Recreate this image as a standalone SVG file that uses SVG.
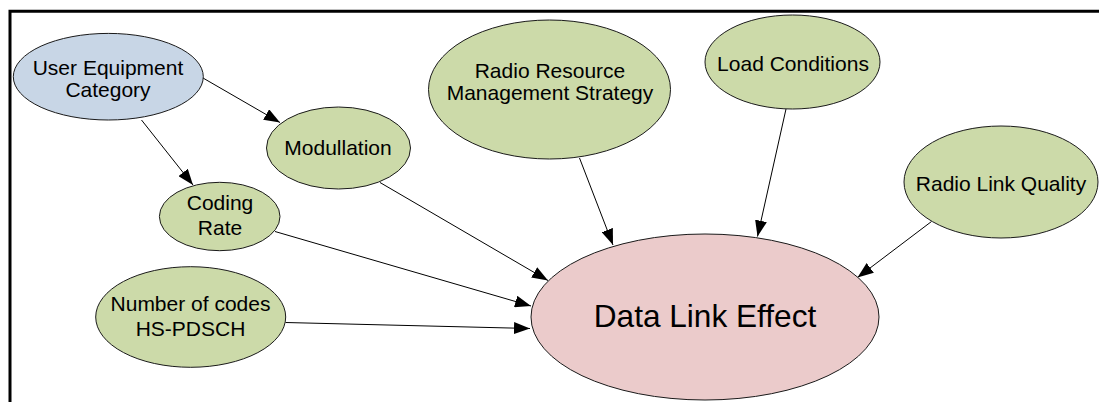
<svg xmlns="http://www.w3.org/2000/svg" width="1099" height="402" viewBox="0 0 1099 402">
  <style>
    .node ellipse { stroke: #1a1a1a; stroke-width: 1; }
    .green { fill: #ccdaa9; }
    .blue { fill: #c8d6e6; }
    .pink { fill: #ebcbcb; }
    text { font-family: "Liberation Sans", Arial, sans-serif; font-size: 21px; fill: #000; text-anchor: middle; }
    .big { font-size: 31.6px; }
    #connectors line { stroke: #000; stroke-width: 1; marker-end: url(#arrow); }
  </style>
  <defs>
    <marker id="arrow" markerUnits="userSpaceOnUse" markerWidth="17" markerHeight="12" refX="16" refY="6" orient="auto">
      <path d="M0,0 L16,6 L0,12 z" fill="#000"/>
    </marker>
  </defs>

  <rect width="1099" height="402" fill="#fff"/>

  <!-- frame: top and left rules -->
  <path d="M10,402 V11.3 H1099" fill="none" stroke="#000" stroke-width="3"/>

  <g id="connectors">
    <line x1="203" y1="78" x2="280" y2="122.5"/>
    <line x1="141.5" y1="120" x2="193" y2="185"/>
    <line x1="380" y1="182.5" x2="548" y2="280.5"/>
    <line x1="275" y1="231.5" x2="531" y2="306"/>
    <line x1="285.5" y1="322.5" x2="530" y2="328.5"/>
    <line x1="579.5" y1="158" x2="613" y2="245"/>
    <line x1="786" y1="109" x2="757.5" y2="236.5"/>
    <line x1="931.5" y1="221.5" x2="857.5" y2="277.5"/>
  </g>

  <g id="user-equipment-category" class="node">
    <ellipse class="blue" cx="108.3" cy="76.7" rx="95" ry="43.3"/>
    <text x="108" y="75">User Equipment</text>
    <text x="108" y="97">Category</text>
  </g>

  <g id="modullation" class="node">
    <ellipse class="green" cx="338.5" cy="148" rx="72" ry="41"/>
    <text x="338" y="155">Modullation</text>
  </g>

  <g id="coding-rate" class="node">
    <ellipse class="green" cx="219.7" cy="216.5" rx="60.3" ry="34.2"/>
    <text x="220" y="210">Coding</text>
    <text x="220" y="235">Rate</text>
  </g>

  <g id="number-of-codes" class="node">
    <ellipse class="green" cx="190.7" cy="317" rx="95" ry="50.3"/>
    <text x="190.5" y="311">Number of codes</text>
    <text x="190.5" y="336">HS-PDSCH</text>
  </g>

  <g id="radio-resource-management" class="node">
    <ellipse class="green" cx="549.5" cy="89.5" rx="121" ry="69.5"/>
    <text x="550" y="78">Radio Resource</text>
    <text x="550" y="100">Management Strategy</text>
  </g>

  <g id="load-conditions" class="node">
    <ellipse class="green" cx="792.5" cy="62" rx="87.5" ry="47"/>
    <text x="793" y="71">Load Conditions</text>
  </g>

  <g id="radio-link-quality" class="node">
    <ellipse class="green" cx="1001" cy="182" rx="97" ry="56"/>
    <text x="1001" y="191">Radio Link Quality</text>
  </g>

  <g id="data-link-effect" class="node">
    <ellipse class="pink" cx="705" cy="317" rx="174" ry="83"/>
    <text class="big" x="705" y="327">Data Link Effect</text>
  </g>
</svg>
